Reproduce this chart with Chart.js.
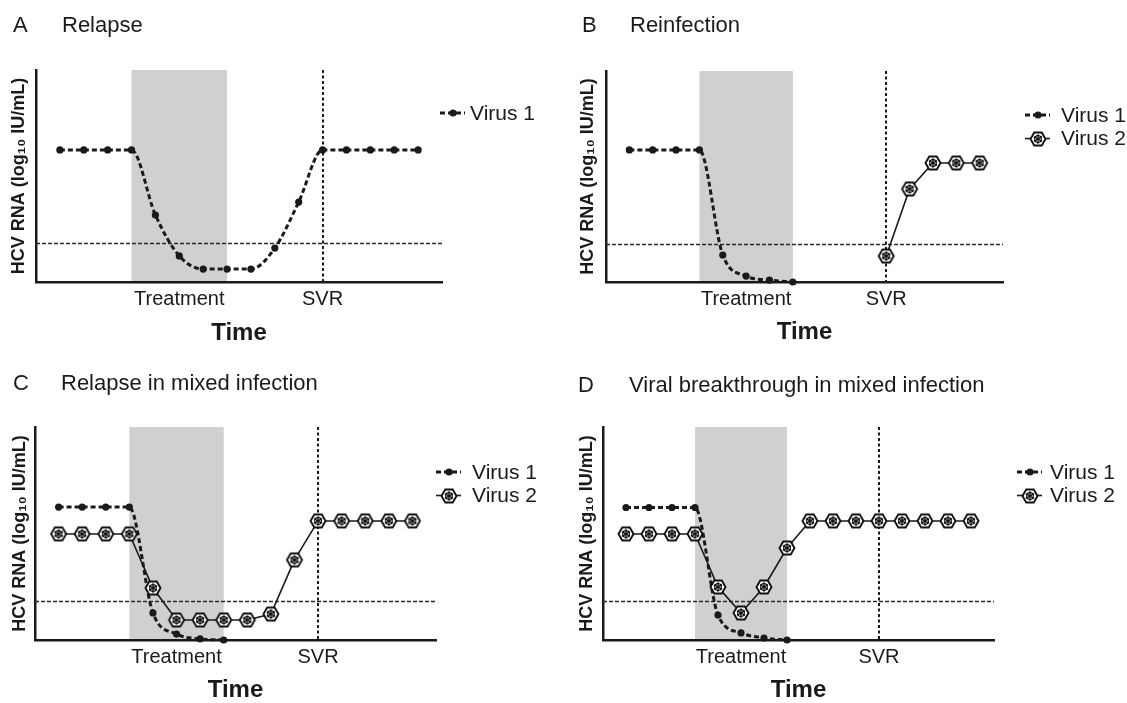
<!DOCTYPE html>
<html><head><meta charset="utf-8">
<script src="https://cdn.jsdelivr.net/npm/chart.js@4.4.1/dist/chart.umd.min.js"></script>
<style>
html,body{margin:0;padding:0;background:#fff;}
#wrap{position:relative;width:1127px;height:703px;overflow:hidden;background:#fff;}
canvas{position:absolute;}
</style></head><body>
<div id="wrap">
<canvas id="cA" width="560" height="355" style="left:0;top:0"></canvas>
<canvas id="cB" width="567" height="355" style="left:560px;top:0"></canvas>
<canvas id="cC" width="560" height="348" style="left:0;top:355px"></canvas>
<canvas id="cD" width="567" height="348" style="left:560px;top:355px"></canvas>
</div>
<script>
// ---------- data ----------
const timePoints = [0, 1, 2, 3, 4, 5, 6, 7, 8, 9, 10, 11, 12, 13, 14, 15];
const tickValues = [5, 11];
const tickLabels = ['Treatment', 'SVR'];
const treatmentWindow = [3, 7];
const svrTime = 11;
const lloq = 1.82;
const seriesNames = ['Virus 1', 'Virus 2'];
const panelLetters = ['A', 'B', 'C', 'D'];
const panelTitles = ['Relapse', 'Reinfection', 'Relapse in mixed infection', 'Viral breakthrough in mixed infection'];
const yAxisTitle = 'HCV RNA (log\u2081\u2080 IU/mL)';
const xAxisTitle = 'Time';

const relapseVirus1 = [6.23, 6.23, 6.23, 6.23, 3.16, 1.23, 0.61, 0.61, 0.61, 1.6, 3.77, 6.23, 6.23, 6.23, 6.23, 6.23];
const reinfectionVirus1 = [6.26, 6.26, 6.26, 6.26, 1.28, 0.28, 0.09, 0.0, null, null, null, null, null, null, null, null];
const reinfectionVirus2 = [null, null, null, null, null, null, null, null, null, null, null, 1.23, 4.41, 5.64, 5.64, 5.64];
const mixedRelapseVirus1 = [6.24, 6.24, 6.24, 6.24, 1.27, 0.28, 0.05, 0.0, null, null, null, null, null, null, null, null];
const mixedRelapseVirus2 = [4.98, 4.98, 4.98, 4.98, 2.44, 0.94, 0.94, 0.94, 0.94, 1.22, 3.76, 5.59, 5.59, 5.59, 5.59, 5.59];
const breakthroughVirus1 = [6.22, 6.22, 6.22, 6.22, 1.17, 0.33, 0.09, 0.0, null, null, null, null, null, null, null, null];
const breakthroughVirus2 = [4.98, 4.98, 4.98, 4.98, 2.49, 1.27, 2.49, 4.32, 5.59, 5.59, 5.59, 5.59, 5.59, 5.59, 5.59, 5.59];

// ---------- styling / layout ----------
const FONT = '"Liberation Sans", Arial, Helvetica, sans-serif';
const INK = '#1a1a1a';
const SHADE = '#d0d0d0';

function makeHex(r, lw) {
  const s = 2 * Math.ceil(r + lw) + 2;
  const c = document.createElement('canvas');
  c.width = s; c.height = s;
  const g = c.getContext('2d');
  g.translate(s / 2, s / 2);
  g.beginPath();
  for (let k = 0; k < 6; k++) {
    const a = k * Math.PI / 3;
    const px = r * Math.cos(a), py = r * Math.sin(a);
    if (k === 0) g.moveTo(px, py); else g.lineTo(px, py);
  }
  g.closePath();
  g.fillStyle = '#fff'; g.fill();
  g.lineWidth = lw; g.strokeStyle = '#111'; g.stroke();
  g.beginPath();
  g.lineWidth = 1.3;
  for (let k = 0; k < 3; k++) {
    const a = k * Math.PI / 3 + Math.PI / 6;
    const dx = 0.62 * r * Math.cos(a), dy = 0.62 * r * Math.sin(a);
    g.moveTo(-dx, -dy); g.lineTo(dx, dy);
  }
  g.stroke();
  g.beginPath();
  g.arc(0, 0, 0.45 * r, 0, Math.PI * 2);
  g.lineWidth = 1.1; g.stroke();
  return c;
}
const hexMarker = makeHex(7.5, 1.9);

const layouts = [
  {id: 'cA', w: 560, h: 355, area: {l: 36, r: 442, t: 70, b: 282}, yTitleX: 19.5, timeY: 333, letterX: 13, titleX: 62, titleY: 32, legendX: 440, legendTextX: 470, legendY: 113},
  {id: 'cB', w: 567, h: 355, area: {l: 46, r: 443, t: 71, b: 282}, yTitleX: 28, timeY: 332, letterX: 22, titleX: 70, titleY: 32, legendX: 465, legendTextX: 501, legendY: 115},
  {id: 'cC', w: 560, h: 348, area: {l: 35, r: 436, t: 72, b: 285}, yTitleX: 20.5, timeY: 335, letterX: 13, titleX: 61, titleY: 35, legendX: 436, legendTextX: 472, legendY: 117},
  {id: 'cD', w: 567, h: 348, area: {l: 43, r: 434, t: 72, b: 285}, yTitleX: 27.5, timeY: 335, letterX: 18, titleX: 69, titleY: 37, legendX: 457, legendTextX: 490, legendY: 117}
];

const panelSeries = [
  [relapseVirus1, null],
  [reinfectionVirus1, reinfectionVirus2],
  [mixedRelapseVirus1, mixedRelapseVirus2],
  [breakthroughVirus1, breakthroughVirus2]
];

function toPoints(values) {
  const pts = [];
  timePoints.forEach((t, i) => { if (values[i] !== null && values[i] !== undefined) pts.push({x: t, y: values[i]}); });
  return pts;
}

function v1Dataset(values) {
  return {
    label: seriesNames[0], data: toPoints(values), order: 2,
    borderColor: INK, borderWidth: 3, borderDash: [5, 3],
    pointRadius: 3.6, pointBackgroundColor: INK, pointBorderWidth: 0, pointStyle: 'circle',
    cubicInterpolationMode: 'monotone', fill: false, clip: false
  };
}
function v2Dataset(values) {
  return {
    label: seriesNames[1], data: toPoints(values), order: 1,
    borderColor: INK, borderWidth: 1.6, tension: 0,
    pointStyle: hexMarker, pointRadius: 8, fill: false, clip: false
  };
}

const decor = {
  id: 'decor',
  beforeDraw(chart, args, o) {
    const {ctx, chartArea: a, scales: {x}} = chart;
    const x0 = x.getPixelForValue(treatmentWindow[0]);
    const x1 = x.getPixelForValue(treatmentWindow[1]);
    ctx.save();
    ctx.fillStyle = SHADE;
    ctx.fillRect(x0, a.top, x1 - x0, a.bottom - a.top);
    ctx.restore();
  },
  beforeDatasetsDraw(chart, args, o) {
    const {ctx, chartArea: a, scales: {x, y}} = chart;
    ctx.save();
    const yl = Math.round(y.getPixelForValue(lloq)) + 0.5;
    ctx.strokeStyle = '#2a2a2a'; ctx.lineWidth = 1.3; ctx.setLineDash([4, 2]);
    ctx.beginPath(); ctx.moveTo(a.left, yl); ctx.lineTo(a.right, yl); ctx.stroke();
    const xs = Math.round(x.getPixelForValue(svrTime));
    ctx.strokeStyle = INK; ctx.lineWidth = 2; ctx.setLineDash([3, 2.5]);
    ctx.beginPath(); ctx.moveTo(xs, a.top); ctx.lineTo(xs, a.bottom); ctx.stroke();
    ctx.restore();
  },
  afterDraw(chart, args, o) {
    const ctx = chart.ctx;
    ctx.save();
    ctx.fillStyle = INK;
    ctx.textBaseline = 'alphabetic';
    ctx.textAlign = 'left';
    ctx.font = '22px ' + FONT;
    ctx.fillText(o.letter, o.letterX, o.titleY);
    ctx.fillText(o.title, o.titleX, o.titleY);
    ctx.font = '21px ' + FONT;
    ctx.textBaseline = 'middle';
    chart.data.datasets.slice().sort((p, q) => seriesNames.indexOf(p.label) - seriesNames.indexOf(q.label)).forEach((ds, i) => {
      const yy = o.legendY + i * 23.5;
      const sx0 = o.legendX, sx1 = o.legendX + 25, cx = Math.round((sx0 + sx1) / 2);
      ctx.save();
      ctx.strokeStyle = INK;
      ctx.lineWidth = ds.borderWidth;
      ctx.setLineDash(ds.borderDash || []);
      ctx.beginPath(); ctx.moveTo(sx0, yy); ctx.lineTo(sx1, yy); ctx.stroke();
      ctx.setLineDash([]);
      if (ds.pointStyle === 'circle') {
        ctx.fillStyle = INK;
        ctx.beginPath(); ctx.arc(cx, yy, ds.pointRadius, 0, Math.PI * 2); ctx.fill();
      } else {
        ctx.drawImage(ds.pointStyle, Math.round(cx - ds.pointStyle.width / 2), Math.round(yy - ds.pointStyle.height / 2));
      }
      ctx.restore();
      ctx.fillStyle = INK;
      ctx.fillText(ds.label, o.legendTextX, yy + 1);
    });
    ctx.restore();
  }
};

layouts.forEach((L, p) => {
  const [s1, s2] = panelSeries[p];
  const datasets = [v1Dataset(s1)];
  if (s2) datasets.push(v2Dataset(s2));
  const padLeft = L.yTitleX - 10.8;
  new Chart(document.getElementById(L.id), {
    type: 'line',
    data: {datasets},
    plugins: [decor],
    options: {
      responsive: false, animation: false, devicePixelRatio: 1, events: [],
      layout: {padding: {left: padLeft, top: L.area.t, right: L.w - L.area.r, bottom: 0}},
      plugins: {
        legend: {display: false}, tooltip: {enabled: false}, title: {display: false},
        decor: {letter: panelLetters[p], title: panelTitles[p], letterX: L.letterX, titleX: L.titleX, titleY: L.titleY,
                legendX: L.legendX, legendTextX: L.legendTextX, legendY: L.legendY}
      },
      scales: {
        x: {
          type: 'linear', min: -1, max: 16,
          grid: {display: false, drawTicks: false},
          border: {display: true, color: INK, width: 2.5},
          afterBuildTicks: (s) => { s.ticks = tickValues.map(v => ({value: v})); },
          ticks: {autoSkip: false, maxRotation: 0, padding: 5, color: INK, font: {family: FONT, size: 20},
                  callback: (v) => { const i = tickValues.indexOf(v); return i >= 0 ? tickLabels[i] : ''; }},
          title: {display: true, text: xAxisTitle, color: INK, font: {family: FONT, size: 24, weight: 'bold', lineHeight: 1},
                  padding: {top: 0, bottom: L.h - L.timeY - 12}},
          afterFit: (s) => { s.height = L.h - L.area.b; }
        },
        y: {
          type: 'linear', min: 0, max: 10,
          grid: {display: false, drawTicks: false},
          border: {display: true, color: INK, width: 2.5},
          ticks: {display: false},
          title: {display: true, text: yAxisTitle, color: INK, font: {family: FONT, size: 18, weight: 'bold'}, padding: 0},
          afterFit: (s) => { s.width = L.area.l - padLeft; }
        }
      }
    }
  });
});
</script>
</body></html>
